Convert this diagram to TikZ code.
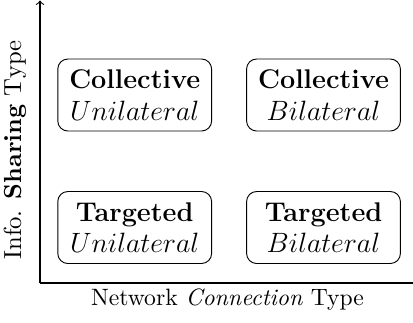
\documentclass[tikz,border=0pt]{standalone}
\begin{document}
\begin{tikzpicture}[x=0.4292pt,y=-0.4292pt,
  cell/.style={draw,rounded corners=4.3pt,minimum width=66pt,minimum height=30.9pt,
    align=center,inner sep=0pt,font=\fontsize{11.6}{13.6}\selectfont},
  axislabel/.style={font=\fontsize{10.15}{12}\selectfont,inner sep=0pt},
  ylabel/.style={font=\fontsize{10.6}{12}\selectfont,inner sep=0pt,rotate=90},
  axisline/.style={line width=0.45pt}]
\useasboundingbox (0,0) rectangle (413,322);
\coordinate (o) at (40,283);
\coordinate (ytop) at (40,0.5);
\coordinate (xend) at (413,283);
\draw[axisline,->] (o) -- (ytop);
\draw[axisline] (o) -- (xend);
\node[cell] (cu) at (134.7,95) {\textbf{Collective}\\$Unilateral$};
\node[cell] (cb) at (323.5,95) {\textbf{Collective}\\$Bilateral$};
\node[cell] (tu) at (134.7,227.5) {\textbf{Targeted}\\$Unilateral$};
\node[cell] (tb) at (323.5,227.5) {\textbf{Targeted}\\$Bilateral$};
\node[axislabel] (xl) at (227.5,299.5) {Network \textit{Connection} Type};
\node[ylabel] (yl) at (15,150) {Info. \textbf{Sharing} Type};
\end{tikzpicture}
\end{document}
